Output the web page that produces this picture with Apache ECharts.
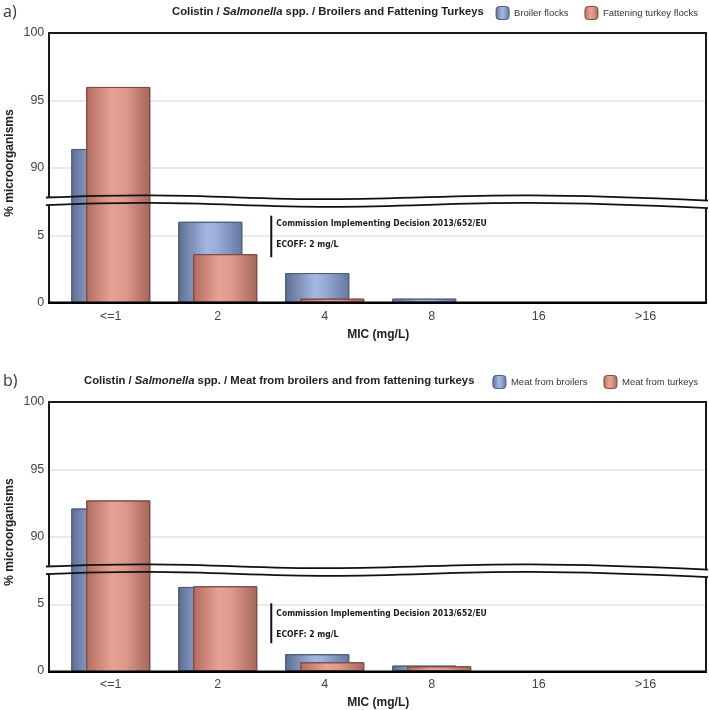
<!DOCTYPE html>
<html><head><meta charset="utf-8">
<script src="https://cdn.jsdelivr.net/npm/echarts@6/dist/echarts.min.js"></script>
<style>html,body{margin:0;padding:0;background:#fff}#c{width:709px;height:710px}</style>
</head><body><div id="c"></div>
<script>
// ---- data ----
const categories = ['<=1', '2', '4', '8', '16', '>16'];
const upperTickLabels = [90, 95, 100];
const lowerTickLabels = [0, 5];
const broilerFlocks = [91.4, 6.0, 2.2, 0.3, 0, 0];
const turkeyFlocks = [96.0, 3.6, 0.3, 0, 0, 0];
const meatBroilers = [92.1, 6.25, 1.25, 0.4, 0, 0];
const meatTurkeys = [92.7, 6.3, 0.65, 0.35, 0, 0];
const panelLetters = ['a)', 'b)'];
const titleParts = [
  ['Colistin / ', 'Salmonella', ' spp. / Broilers and Fattening Turkeys'],
  ['Colistin / ', 'Salmonella', ' spp. / Meat from broilers and from fattening turkeys']
];
const legendNames = [['Broiler flocks', 'Fattening turkey flocks'], ['Meat from broilers', 'Meat from turkeys']];
const panelSeries = [[broilerFlocks, turkeyFlocks], [meatBroilers, meatTurkeys]];
const yAxisTitle = '% microorganisms';
const xAxisTitle = 'MIC (mg/L)';
const ecoffText = ['Commission Implementing Decision 2013/652/EU', 'ECOFF: 2 mg/L'];

// ---- axis break (lower part 0..20 scale, upper part 80..100 scale on same rect) ----
const LOWER_RANGE = [0, 20];
const UPPER_RANGE = [80, 100];
const BREAK_LOW = 7.25, BREAK_HIGH = 87.25;

// ---- layout ----
const OFF = [0, 369];
const FR = { l: 49, r: 706, t: 33, h: 269.7 };
const DG = { l: 57.3, w: 641.9 };
const FONT = 'Liberation Sans, Arial, sans-serif';

const blueFill = { type: 'linear', x: 0, y: 0, x2: 1, y2: 0, colorStops: [
  { offset: 0, color: '#5e6e93' }, { offset: 0.45, color: '#a4b7e0' }, { offset: 0.6, color: '#9aaed8' }, { offset: 1, color: '#66779f' }] };
const redFill = { type: 'linear', x: 0, y: 0, x2: 1, y2: 0, colorStops: [
  { offset: 0, color: '#b26c60' }, { offset: 0.4, color: '#e8a295' }, { offset: 0.6, color: '#df998c' }, { offset: 1, color: '#a5665b' }] };
const fills = [blueFill, redFill];
const borders = ['#4d5b7c', '#7e4b43'];

const grid = [], xAxis = [], yAxis = [], series = [], legend = [], title = [];
panelSeries.forEach((pair, p) => {
  const off = OFF[p];
  const gFrame = grid.length;
  grid.push({ left: FR.l, top: FR.t + off, width: FR.r - FR.l, height: FR.h });
  xAxis.push({ gridIndex: gFrame, type: 'value', min: 0, max: 1, show: false });
  yAxis.push({ gridIndex: gFrame, type: 'value', min: LOWER_RANGE[0], max: LOWER_RANGE[1], interval: 5,
    axisLine: { show: false }, axisTick: { show: false }, axisLabel: { show: false },
    splitLine: { show: true, lineStyle: { color: '#e3e3e3', width: 1.5 } } });
  // lower data grid
  const gL = grid.length;
  grid.push({ left: DG.l, top: FR.t + off, width: DG.w, height: FR.h });
  xAxis.push({ gridIndex: gL, type: 'category', data: categories, axisLine: { show: false }, axisTick: { show: false },
    axisLabel: { color: '#444', fontSize: 12.5, fontFamily: FONT, margin: 7 },
    name: xAxisTitle, nameLocation: 'middle', nameGap: 26,
    nameTextStyle: { fontWeight: 'bold', fontSize: 12, color: '#222', fontFamily: FONT } });
  yAxis.push({ gridIndex: gL, type: 'value', min: LOWER_RANGE[0], max: LOWER_RANGE[1], interval: 5,
    axisLine: { show: false }, axisTick: { show: false }, splitLine: { show: false },
    axisLabel: { color: '#444', fontSize: 12.5, fontFamily: FONT, margin: 13,
      formatter: v => lowerTickLabels.includes(v) ? String(v) : '' } });
  // upper data grid
  const gU = grid.length;
  grid.push({ left: DG.l, top: FR.t + off, width: DG.w, height: FR.h });
  xAxis.push({ gridIndex: gU, type: 'category', data: categories, show: false });
  yAxis.push({ gridIndex: gU, type: 'value', min: UPPER_RANGE[0], max: UPPER_RANGE[1], interval: 5,
    axisLine: { show: false }, axisTick: { show: false }, splitLine: { show: false },
    axisLabel: { color: '#444', fontSize: 12.5, fontFamily: FONT, margin: 13,
      formatter: v => upperTickLabels.includes(v) ? String(v) : '' } });

  // zero values draw no bar (as in the reference)
  [[gL, v => (v > 0 && v <= BREAK_LOW) ? v : '-'], [gU, v => v >= BREAK_HIGH ? v : '-']].forEach(([g, pick]) => {
    pair.forEach((vals, k) => {
      series.push({
        type: 'bar', name: legendNames[p][k], xAxisIndex: g, yAxisIndex: g,
        data: vals.map(pick), barWidth: 64, barGap: '-76.6%', clip: true,
        itemStyle: { color: fills[k], borderColor: borders[k], borderWidth: 1 },
        emphasis: { disabled: true }, animation: false
      });
    });
  });

  legend.push({ data: legendNames[p], right: 6, top: 1 + off, itemWidth: 13, itemHeight: 13, itemGap: 16, itemStyle: { borderWidth: 1 },
    selectedMode: false,
    textStyle: { fontSize: 9.5, color: '#333', fontFamily: 'Liberation Sans Narrow, Liberation Sans, Arial' } });
  title.push({ text: '{n|' + titleParts[p][0] + '}{i|' + titleParts[p][1] + '}{n|' + titleParts[p][2] + '}',
    left: p === 0 ? 167 : 79, top: 1 + off,
    textStyle: { rich: {
      n: { fontWeight: 'bold', fontSize: 11.3, color: '#222', fontFamily: FONT },
      i: { fontWeight: 'bold', fontStyle: 'italic', fontSize: 11.3, color: '#222', fontFamily: FONT } } } });
});

const chart = echarts.init(document.getElementById('c'), null, { renderer: 'canvas' });
chart.setOption({ animation: false, backgroundColor: '#fff', grid, xAxis, yAxis, series, legend, title });

// ---- decorations: frame, break waves, ECOFF annotation ----
const WAVE = [[46, 197.5], [150, 195.3], [330, 199.2], [530, 195.3], [708, 200.6]];
const WAVE_GAP = 7.6;
const ecoffY = [[215.7, 257.3, 224, 245], [603.3, 643.3, 614, 634.3]];
const graphic = [];
const ln = { stroke: '#1a1a1a', lineWidth: 2, fill: null };
OFF.forEach((off, p) => {
  const top = FR.t + off, bottom = FR.t + FR.h + off;
  const w1 = WAVE.map(([x, y]) => [x, y + off]);
  const w2 = WAVE.map(([x, y]) => [x, y + off + WAVE_GAP]);
  graphic.push({ type: 'polyline', z: 100, shape: { points: w1, smooth: 0.4 }, style: { stroke: '#111', lineWidth: 1.8, fill: null } });
  graphic.push({ type: 'polyline', z: 100, shape: { points: w2, smooth: 0.4 }, style: { stroke: '#111', lineWidth: 1.8, fill: null } });
  graphic.push({ type: 'polyline', z: 100, shape: { points: [[FR.l, 198 + off], [FR.l, top], [FR.r, top], [FR.r, 200.3 + off]] }, style: ln });
  graphic.push({ type: 'polyline', z: 100, shape: { points: [[FR.l, 204.5 + off], [FR.l, bottom]] }, style: ln });
  graphic.push({ type: 'polyline', z: 100, shape: { points: [[FR.r, 207.8 + off], [FR.r, bottom]] }, style: ln });
  graphic.push({ type: 'line', z: 101, shape: { x1: FR.l - 1, y1: bottom, x2: FR.r + 1, y2: bottom }, style: { stroke: '#000', lineWidth: 2.5 } });
  // ECOFF line between categories '2' and '4'
  const gL = p * 3 + 1;
  const xa = chart.convertToPixel({ xAxisIndex: gL }, categories[1]);
  const xb = chart.convertToPixel({ xAxisIndex: gL }, categories[2]);
  const xm = (xa + xb) / 2;
  const e = ecoffY[p];
  graphic.push({ type: 'line', z: 100, shape: { x1: xm, y1: e[0], x2: xm, y2: e[1] }, style: { stroke: '#111', lineWidth: 2 } });
  ecoffText.forEach((t, i) => graphic.push({ type: 'text', z: 100, x: xm + 5, y: e[2 + i],
    style: { text: t, fontSize: 8.5, fontWeight: 'bold', fontFamily: 'DejaVu Sans Condensed, DejaVu Sans', fill: '#1a1a1a', verticalAlign: 'middle' } }));
  // panel letter
  graphic.push({ type: 'text', z: 100, x: 3, y: 12 + off, style: { text: panelLetters[p], fontSize: 16, fontFamily: 'Open Sans, Liberation Sans', fill: '#333', verticalAlign: 'middle' } });
  // y-axis title
  graphic.push({ type: 'text', z: 100, x: 10, y: 163 + off, rotation: Math.PI / 2,
    style: { text: yAxisTitle, fontSize: 12, fontWeight: 'bold', fontFamily: FONT, fill: '#222', align: 'center', verticalAlign: 'middle' } });
});
chart.setOption({ graphic });
</script></body></html>
